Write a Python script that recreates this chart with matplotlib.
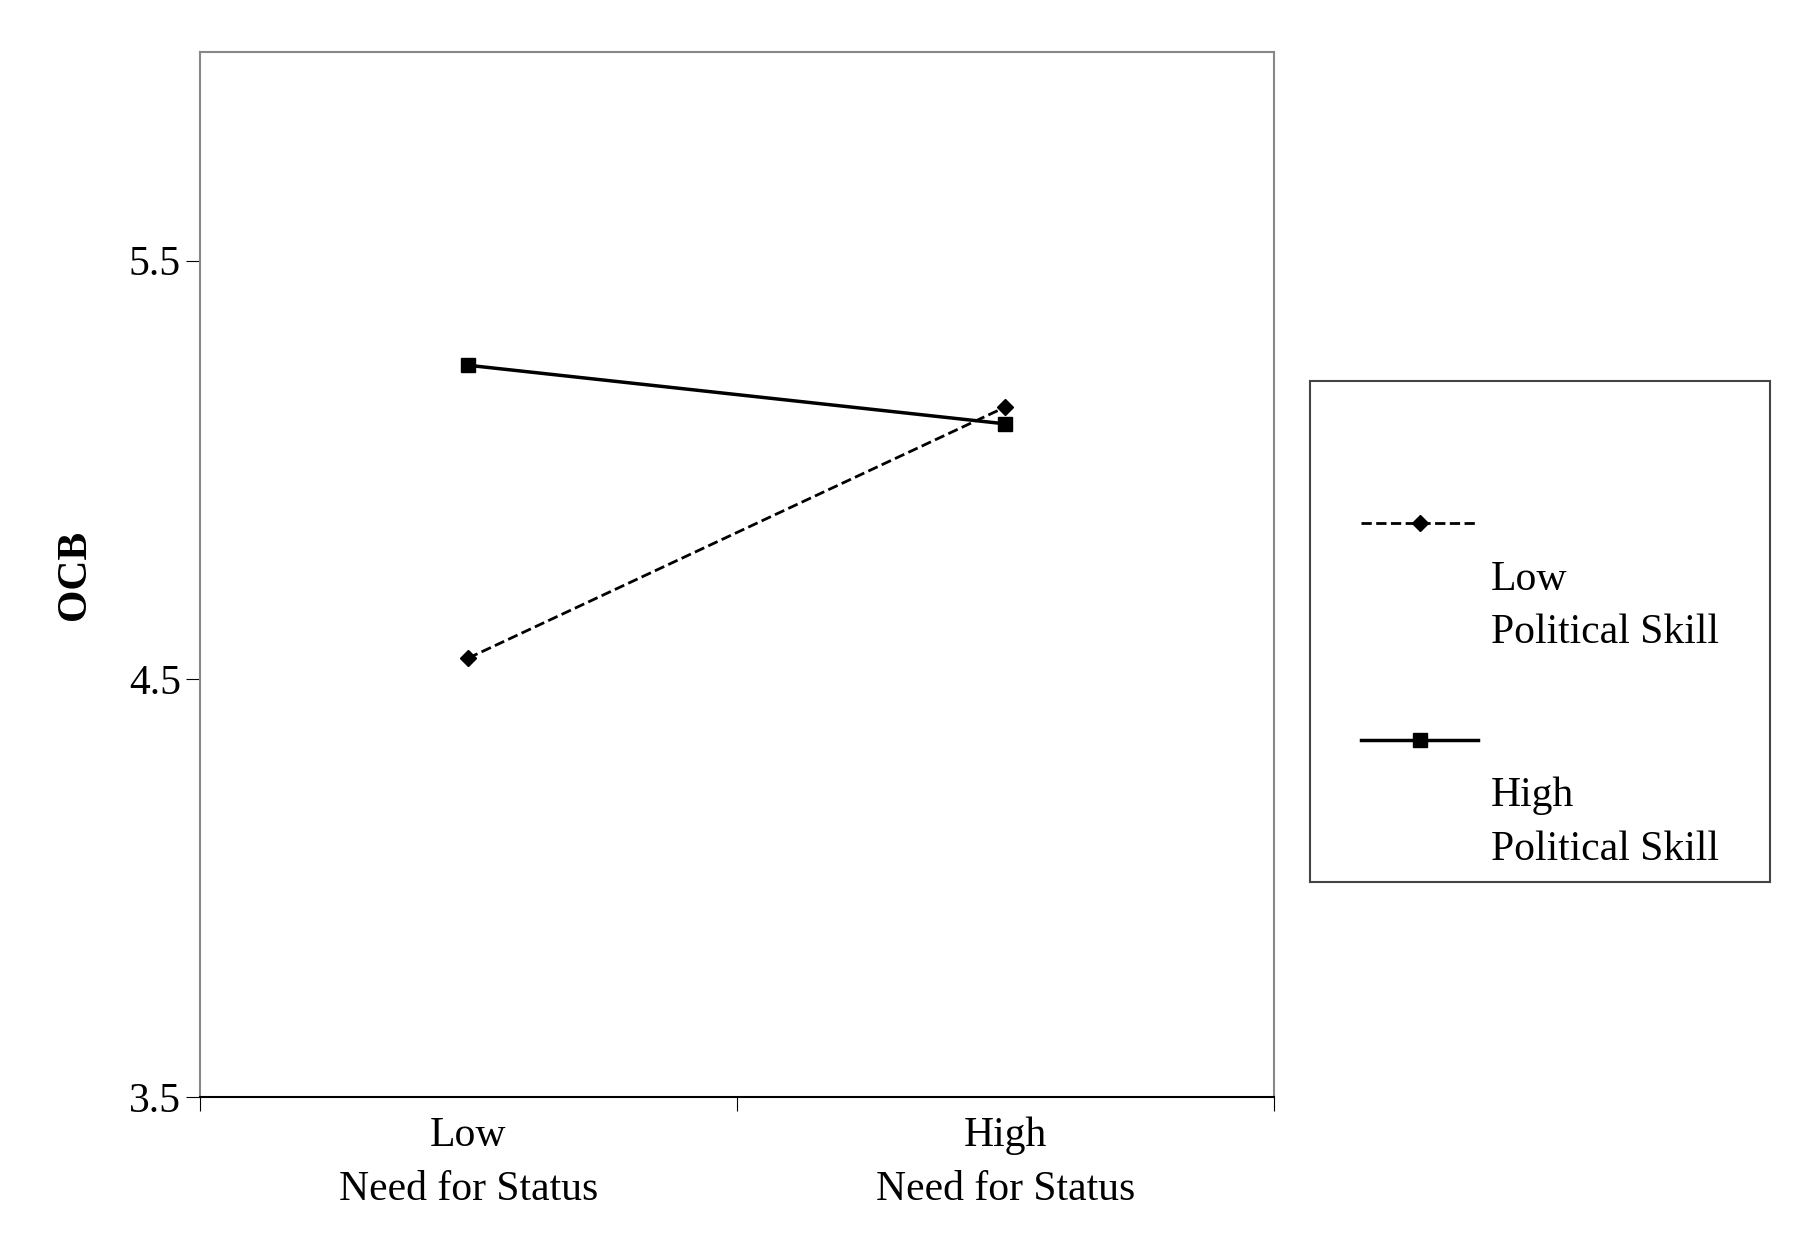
import matplotlib
matplotlib.use('Agg')
import matplotlib.pyplot as plt

# data
categories = ['Low\nNeed for Status', 'High\nNeed for Status']
low_skill = [4.55, 5.15]
high_skill = [5.25, 5.11]
y_ticks = [3.5, 4.5, 5.5]

plt.rcParams['font.family'] = ['Liberation Serif', 'DejaVu Serif']
FS = 30

fig = plt.figure(figsize=(17.99, 12.57), dpi=100)
ax = fig.add_axes([0.111, 0.127, 0.597, 0.832])

xs = [0.5, 1.5]
ax.plot(xs, low_skill, color='black', linestyle='--', lw=2, marker='D', ms=8,
        label='Low\nPolitical Skill')
ax.plot(xs, high_skill, color='black', linestyle='-', lw=2.5, marker='s', ms=10,
        label='High\nPolitical Skill')

ax.set_xlim(0, 2)
ax.set_ylim(3.5, 6.0)
ax.set_yticks(y_ticks)
ax.set_yticklabels([str(v) for v in y_ticks], fontsize=FS)
ax.set_xticks([0, 1, 2])
ax.set_xticklabels([])
ax.set_xticks(xs, minor=True)
ax.set_xticklabels(categories, minor=True, fontsize=FS, linespacing=1.5)
ax.tick_params(axis='x', which='minor', length=0, pad=14)
ax.tick_params(axis='x', which='major', length=10, direction='out')
ax.tick_params(axis='y', length=10)
ax.set_ylabel('OCB', fontsize=FS, fontweight='bold', labelpad=25)
for s in ax.spines.values():
    s.set_color('#888888')
    s.set_linewidth(1.5)
ax.spines['bottom'].set_color('black')

# legend in its own box
lax = fig.add_axes([0.728, 0.298, 0.256, 0.399])
lax.set_xticks([])
lax.set_yticks([])
for s in lax.spines.values():
    s.set_color('#444444')
    s.set_linewidth(1.5)
h, l = ax.get_legend_handles_labels()
leg = lax.legend(h, l, loc='center', frameon=False, fontsize=FS, handlelength=2.8,
                 labelspacing=3.0, handletextpad=0.3)
for t in leg.get_texts():
    t.set_linespacing(1.5)
    t.set_va('top')

fig.savefig('out.png', dpi=100)
